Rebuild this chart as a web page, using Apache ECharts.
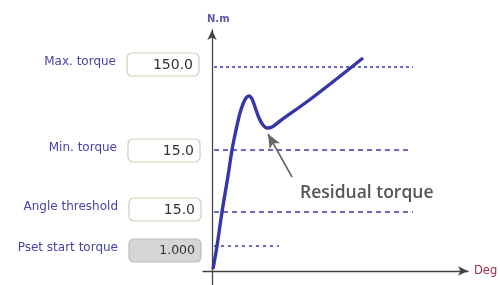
<!DOCTYPE html>
<html><head><meta charset="utf-8">
<script src="https://cdn.jsdelivr.net/npm/echarts@6/dist/echarts.min.js"></script>
<style>html,body{margin:0;padding:0;background:#fff}#c{width:500px;height:285px}</style>
</head><body><div id="c"></div>
<script>
// Schematic units: x = angle (Deg), y = torque (N.m)
const paramLabels = ['Max. torque', 'Min. torque', 'Angle threshold', 'Pset start torque'];
const paramValues = ['150.0', '15.0', '15.0', '1.000'];
const thresholdLevels = [204, 121, 59, 25];      // y of dashed reference lines
const thresholdEnds = [201, 198, 201, 67];       // x where each dashed line ends
const curveX = [1, 5, 10, 16, 20, 24, 28, 31, 34, 37, 40, 43, 47, 51, 55, 60, 68, 100, 151];
const curveY = [2, 25, 59, 95, 121, 141, 158, 167, 173, 175, 172, 164, 153, 146, 143, 144, 150, 173, 213];
const residualFrom = [80, 94];
const residualTo = [56, 137];

const blue = '#3636a6';
const dashStyles = [[3, 3], [5, 4], [5, 4], [3, 4]];

const series = [];
thresholdLevels.forEach((lv, i) => {
  series.push({
    type: 'line', data: [[2, lv], [thresholdEnds[i], lv]], symbol: 'none', silent: true,
    lineStyle: { color: '#3c3ca8', width: 1.3, type: dashStyles[i] }, z: 2
  });
});
series.push({
  type: 'line', data: curveX.map((x, i) => [x, curveY[i]]), symbol: 'none', smooth: 0.35,
  lineStyle: { color: blue, width: 3.4 }, z: 5,
  markLine: {
    silent: true, symbol: ['none', 'arrow'], symbolSize: [9, 14],
    lineStyle: { color: '#666', width: 1.6, type: 'solid' }, label: { show: false },
    data: [[{ coord: residualFrom }, { coord: residualTo, symbol: 'arrow', itemStyle: { color: '#111' } }]]
  }
});

const graphic = [];
const boxTops = [53, 139, 198, 239];
const boxLefts = [127, 128, 129, 129];
paramLabels.forEach((lab, i) => {
  const top = boxTops[i];
  graphic.push({
    type: 'rect', shape: { x: boxLefts[i], y: top, width: 72, height: 23, r: 5 },
    style: { fill: i === 3 ? '#d5d5d5' : '#fff', stroke: i === 3 ? '#bdbdbd' : '#cfcfb8', lineWidth: 1.2 }
  });
  graphic.push({
    type: 'text', x: boxLefts[i] + 66, y: top + 12,
    style: { text: paramValues[i], font: (i === 3 ? '12.5px' : '14px') + ' "DejaVu Sans"', fill: '#333', align: 'right', verticalAlign: 'middle' }
  });
  graphic.push({
    type: 'text', x: boxLefts[i] - 11, y: top + 9,
    style: { text: lab, font: '12px "DejaVu Sans"', fill: '#4545a6', align: 'right', verticalAlign: 'middle' }
  });
});
graphic.push({ type: 'text', x: 207, y: 19, style: { text: 'N.m', font: 'bold 10px "DejaVu Sans"', fill: '#5a5aa8', verticalAlign: 'middle' } });
graphic.push({ type: 'text', x: 474, y: 271, style: { text: 'Deg', font: '11.5px "DejaVu Sans"', fill: '#a0304a', verticalAlign: 'middle' } });
graphic.push({ type: 'text', x: 300, y: 193, style: { text: 'Residual torque', font: '600 17.5px "Open Sans"', fill: '#555', verticalAlign: 'middle' } });

const chart = echarts.init(document.getElementById('c'), null, { renderer: 'canvas' });
chart.setOption({
  animation: false,
  grid: { left: 203, right: 32, top: 30, bottom: 0 },
  xAxis: {
    type: 'value', min: -9, max: 256, splitLine: { show: false },
    axisLabel: { show: false }, axisTick: { show: false },
    axisLine: { onZero: true, symbol: ['none', 'arrow'], symbolSize: [7, 10], lineStyle: { color: '#444', width: 1.3 } }
  },
  yAxis: {
    type: 'value', min: -14, max: 241, splitLine: { show: false },
    axisLabel: { show: false }, axisTick: { show: false },
    axisLine: { onZero: true, symbol: ['none', 'arrow'], symbolSize: [7, 10], lineStyle: { color: '#444', width: 1.3 } }
  },
  series: series,
  graphic: graphic
});
</script></body></html>
